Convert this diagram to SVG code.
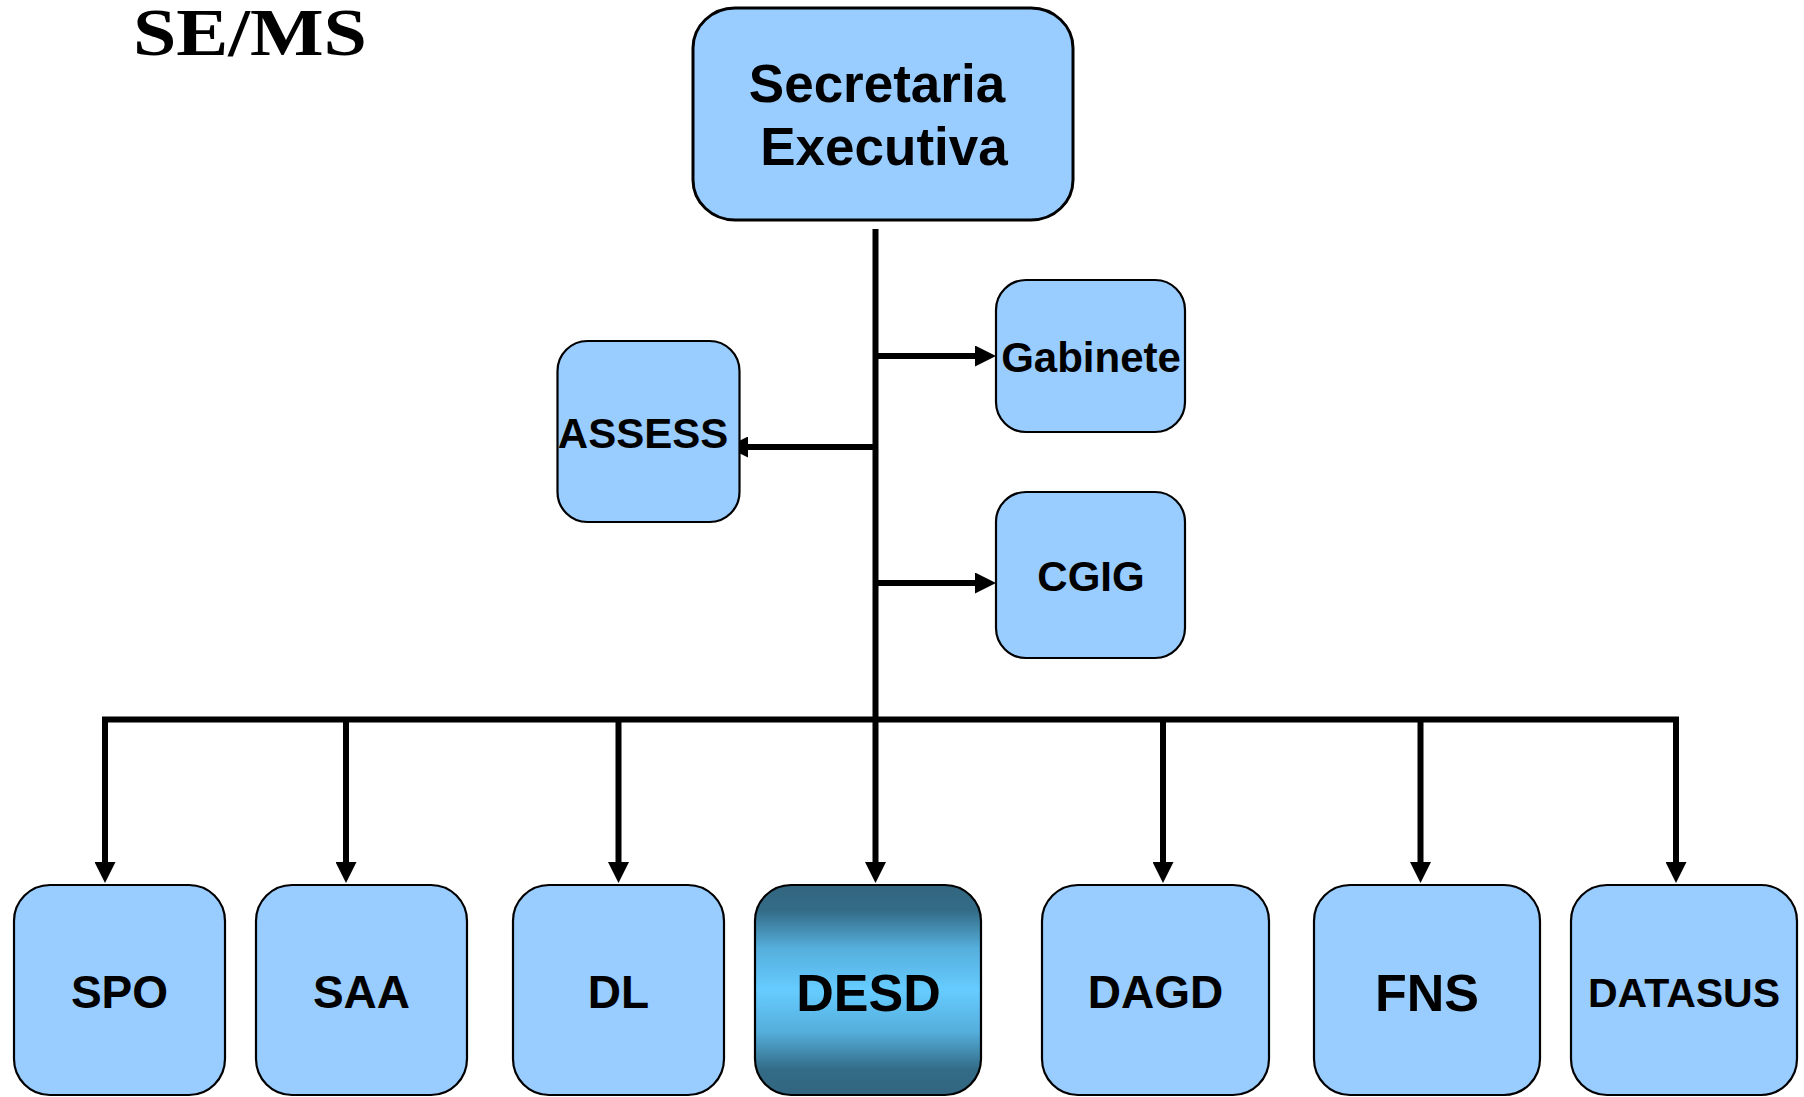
<svg xmlns="http://www.w3.org/2000/svg" width="1804" height="1097" viewBox="0 0 1804 1097">
<defs>
<style>
.box{fill:#99ccff;stroke:#000;stroke-width:2.2}
.lbl{font-family:"Liberation Sans",Arial,sans-serif;font-weight:bold;fill:#000;text-anchor:middle}
.conn{stroke:#000;stroke-width:6;fill:none}
</style>
<marker id="ah" viewBox="0 0 21 21" markerWidth="21" markerHeight="21" refX="0" refY="10.5" orient="auto" markerUnits="userSpaceOnUse">
<path d="M0,0 L21,10.5 L0,21 Z" fill="#000"/>
</marker>
<linearGradient id="desdGrad" x1="0" y1="0" x2="0" y2="1">
<stop offset="0" stop-color="#336680"/>
<stop offset="0.12" stop-color="#336b86"/>
<stop offset="0.3" stop-color="#55aedb"/>
<stop offset="0.5" stop-color="#66ccff"/>
<stop offset="0.7" stop-color="#55aedb"/>
<stop offset="0.88" stop-color="#336b86"/>
<stop offset="1" stop-color="#336680"/>
</linearGradient>
</defs>
<rect width="1804" height="1097" fill="#fff"/>
<text id="title" x="133" y="55" font-family="'Liberation Serif','Times New Roman',serif" font-weight="bold" font-size="67" textLength="234" lengthAdjust="spacingAndGlyphs">SE/MS</text>
<g id="connectors">
<line class="conn" x1="875.5" y1="229" x2="875.5" y2="862" marker-end="url(#ah)"/>
<line class="conn" x1="875.5" y1="356" x2="975" y2="356" marker-end="url(#ah)"/>
<line class="conn" x1="875.5" y1="583" x2="975" y2="583" marker-end="url(#ah)"/>
<line class="conn" x1="875.5" y1="447" x2="748" y2="447" marker-end="url(#ah)"/>
<line class="conn" x1="102" y1="719.5" x2="1679" y2="719.5"/>
<line class="conn" x1="105" y1="717" x2="105" y2="862" marker-end="url(#ah)"/>
<line class="conn" x1="346" y1="717" x2="346" y2="862" marker-end="url(#ah)"/>
<line class="conn" x1="618.5" y1="717" x2="618.5" y2="862" marker-end="url(#ah)"/>
<line class="conn" x1="1163" y1="717" x2="1163" y2="862" marker-end="url(#ah)"/>
<line class="conn" x1="1420.5" y1="717" x2="1420.5" y2="862" marker-end="url(#ah)"/>
<line class="conn" x1="1676" y1="717" x2="1676" y2="862" marker-end="url(#ah)"/>
</g>
<g id="secretaria">
<rect class="box" x="693" y="8" width="380" height="212" rx="42" ry="40" style="stroke-width:3"/>
<text class="lbl" x="877" y="102" font-size="53">Secretaria</text>
<text class="lbl" x="884" y="165" font-size="53">Executiva</text>
</g>
<g id="gabinete">
<rect class="box" x="996" y="280" width="189" height="152" rx="30"/>
<text class="lbl" x="1091" y="372" font-size="42">Gabinete</text>
</g>
<g id="assess">
<rect class="box" x="557.5" y="341" width="182" height="181" rx="30"/>
<text class="lbl" x="643" y="448" font-size="42">ASSESS</text>
</g>
<g id="cgig">
<rect class="box" x="996" y="492" width="189" height="166" rx="30"/>
<text class="lbl" x="1091" y="591" font-size="42">CGIG</text>
</g>
<g id="spo">
<rect class="box" x="14" y="885" width="211" height="210" rx="36"/>
<text class="lbl" x="119.5" y="1008" font-size="46">SPO</text>
</g>
<g id="saa">
<rect class="box" x="256" y="885" width="211" height="210" rx="36"/>
<text class="lbl" x="361.5" y="1008" font-size="46">SAA</text>
</g>
<g id="dl">
<rect class="box" x="513" y="885" width="211" height="210" rx="36"/>
<text class="lbl" x="618.5" y="1008" font-size="46">DL</text>
</g>
<g id="desd">
<rect x="755" y="885" width="226" height="210" rx="36" fill="url(#desdGrad)" stroke="#000" stroke-width="2.2"/>
<text class="lbl" x="868.5" y="1011" font-size="52">DESD</text>
</g>
<g id="dagd">
<rect class="box" x="1042" y="885" width="227" height="210" rx="36"/>
<text class="lbl" x="1155.5" y="1008" font-size="46">DAGD</text>
</g>
<g id="fns">
<rect class="box" x="1314" y="885" width="226" height="210" rx="36"/>
<text class="lbl" x="1427" y="1011" font-size="52">FNS</text>
</g>
<g id="datasus">
<rect class="box" x="1571" y="885" width="226" height="210" rx="36"/>
<text class="lbl" x="1684" y="1007" font-size="41">DATASUS</text>
</g>
</svg>
